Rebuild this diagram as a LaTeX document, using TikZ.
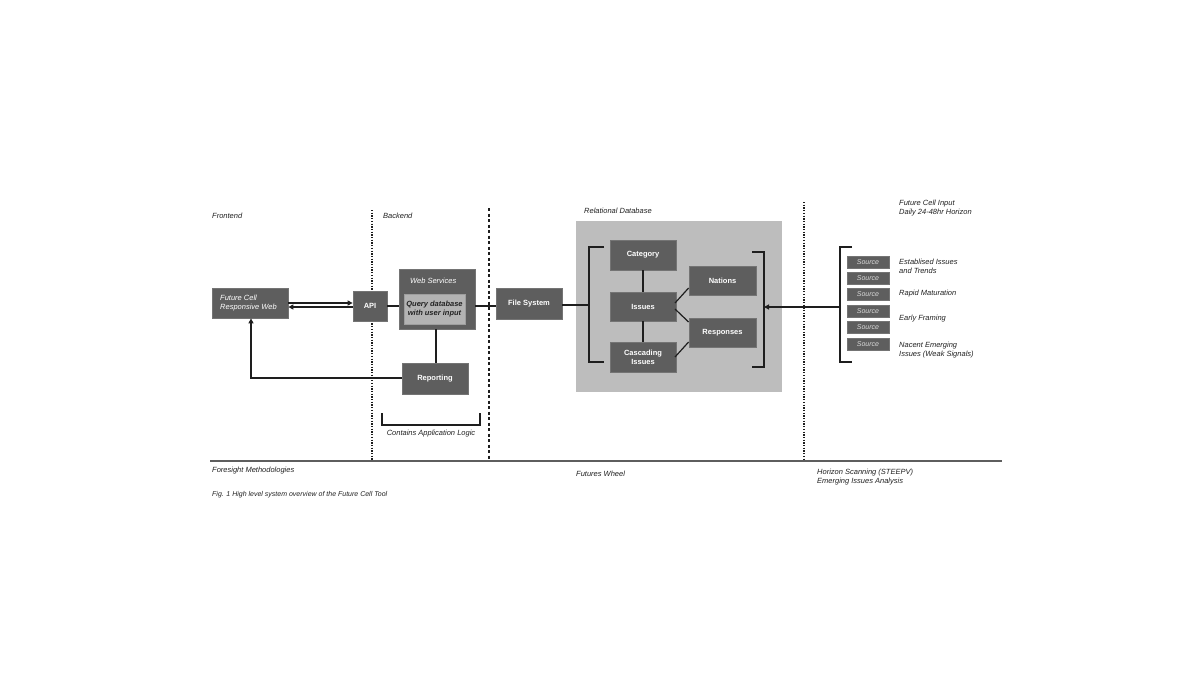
\documentclass[tikz,border=0pt]{standalone}
\usepackage{fontspec}
\setmainfont{Liberation Sans}
\usetikzlibrary{arrows.meta}
\definecolor{boxc}{HTML}{5E5E5E}
\definecolor{boxb}{HTML}{747474}
\definecolor{dbc}{HTML}{BDBDBD}
\definecolor{qc}{HTML}{B3B3B3}
\definecolor{txt}{HTML}{222222}
\definecolor{linec}{HTML}{1E1E1E}
\tikzset{
  every node/.style={font=\fontsize{7.5}{9}\selectfont, inner sep=0pt},
  dbox/.style={fill=boxc, draw=boxb, line width=0.8pt, text=white, font=\fontsize{7.5}{9}\selectfont\bfseries, align=center},
  srcbox/.style={fill=boxc, draw=boxb, line width=0.6pt, text=white!85!black, font=\fontsize{7}{8}\selectfont\itshape, minimum width=42pt, minimum height=12pt},
  lbl/.style={text=txt, font=\fontsize{7.5}{9}\selectfont\itshape, anchor=west, align=left},
  conn/.style={draw=linec, line width=1.2pt},
  arr/.style={conn, -{Triangle[length=5pt,width=5pt]}},
  brk/.style={draw=linec, line width=1.4pt},
  divider/.style={draw=linec, line width=1.3pt}
}
\begin{document}
\begin{tikzpicture}[x=1pt,y=-1pt]
\useasboundingbox[fill=white] (0,0) rectangle (1200,675);

% dividers
\draw[divider, dash pattern=on 1.3pt off 1.4pt] (372,210) -- (372,461);
\draw[divider, dash pattern=on 3pt off 2.5pt] (489,208) -- (489,461);
\draw[divider, dash pattern=on 1.3pt off 1.4pt] (804,202) -- (804,461);
\draw[draw=boxc, line width=2pt] (210,461) -- (1002,461);

% section labels
\node[lbl] (lfront) at (212,216) {Frontend};
\node[lbl] (lback) at (383,216) {Backend};
\node[lbl] (lrel) at (584,211) {Relational Database};
\node[lbl] (lin) at (899,208.5) {Future Cell Input\\Daily 24-48hr Horizon};

% DB background
\fill[dbc] (576,221) rectangle (782,392);

% boxes
\node[dbox, minimum width=76pt, minimum height=30pt] (web) at (250,303) {};
\node[lbl, text=white] (webt) at (220,303) {Future Cell\\Responsive Web};
\node[dbox, minimum width=34pt, minimum height=30pt] (api) at (370,306) {API};
\node[dbox, minimum width=76pt, minimum height=60pt] (ws) at (437,299) {};
\node[lbl, text=white] (wst) at (410,281) {Web Services};
\node[fill=qc, draw=boxb!70!white, line width=0.8pt, minimum width=61pt, minimum height=30pt, text=txt, font=\fontsize{7.5}{9}\selectfont\bfseries\itshape, align=center] (q) at (434.5,309) {Query database\\with user input};
\node[dbox, minimum width=66pt, minimum height=31pt] (rep) at (435,378.5) {Reporting};
\node[dbox, minimum width=66pt, minimum height=31pt] (fs) at (529,303.5) {File System};

\node[dbox, minimum width=66pt, minimum height=30pt] (cat) at (643,255) {Category};
\node[dbox, minimum width=66pt, minimum height=29pt] (iss) at (643,306.5) {Issues};
\node[dbox, minimum width=66pt, minimum height=30pt] (cas) at (643,357) {Cascading\\Issues};
\node[dbox, minimum width=67pt, minimum height=29pt] (nat) at (722.5,280.5) {Nations};
\node[dbox, minimum width=67pt, minimum height=29pt] (res) at (722.5,332.5) {Responses};

% sources
\node[srcbox] (s1) at (868,262) {Source};
\node[srcbox] (s2) at (868,278) {Source};
\node[srcbox] (s3) at (868,294.5) {Source};
\node[srcbox] (s4) at (868,311) {Source};
\node[srcbox] (s5) at (868,327.5) {Source};
\node[srcbox] (s6) at (868,344) {Source};
\node[lbl] (t1) at (899,266.5) {Establised Issues\\and Trends};
\node[lbl] (t2) at (899,294) {Rapid Maturation};
\node[lbl] (t3) at (899,319) {Early Framing};
\node[lbl] (t4) at (899,350.5) {Nacent Emerging\\Issues (Weak Signals)};

% brackets
\coordinate (lbr) at (589,305);
\coordinate (rbr) at (764,307);
\coordinate (sbr) at (840,307);
\draw[brk] (604,247) -- (589,247) -- (589,362) -- (604,362);
\draw[brk] (752,252) -- (764,252) -- (764,367) -- (752,367);
\draw[brk] (852,247) -- (840,247) -- (840,362) -- (852,362);
\draw[brk] (382,413) -- (382,425) -- (480,425) -- (480,413);
\node[lbl, anchor=center] (logic) at (431,434) {Contains Application Logic};

% connectors
\draw[arr] (web.east |- 0,303) -- (api.west |- 0,303);
\draw[arr] (api.west |- 0,307) -- (web.east |- 0,307);
\draw[conn] (api.east |- 0,306) -- (ws.west |- 0,306);
\draw[conn] (ws.east |- 0,306) -- (fs.west |- 0,306);
\draw[conn] (fs.east |- 0,305) -- (lbr);
\draw[conn] (ws.south -| 436,0) -- (rep.north -| 436,0);
\draw[arr] (rep.west |- 0,378) -- (251,378) -- (web.south -| 251,0);
\draw[conn] (cat) -- (iss);
\draw[conn] (iss) -- (cas);
\draw[conn] (675,303) -- (nat.west |- 0,288);
\draw[conn] (675,309) -- (res.west |- 0,322);
\draw[conn] (675,357) -- (res.west |- 0,342);
\draw[arr] (sbr) -- (rbr);

% bottom labels
\node[lbl] (fm) at (212,471) {Foresight Methodologies};
\node[lbl] (fw) at (576,473.5) {Futures Wheel};
\node[lbl] (hs) at (817,477.5) {Horizon Scanning (STEEPV)\\Emerging Issues Analysis};
\node[lbl, font=\fontsize{7}{8}\selectfont\itshape] (fig) at (212,495) {Fig. 1 High level system overview of the Future Cell Tool};
\end{tikzpicture}
\end{document}
